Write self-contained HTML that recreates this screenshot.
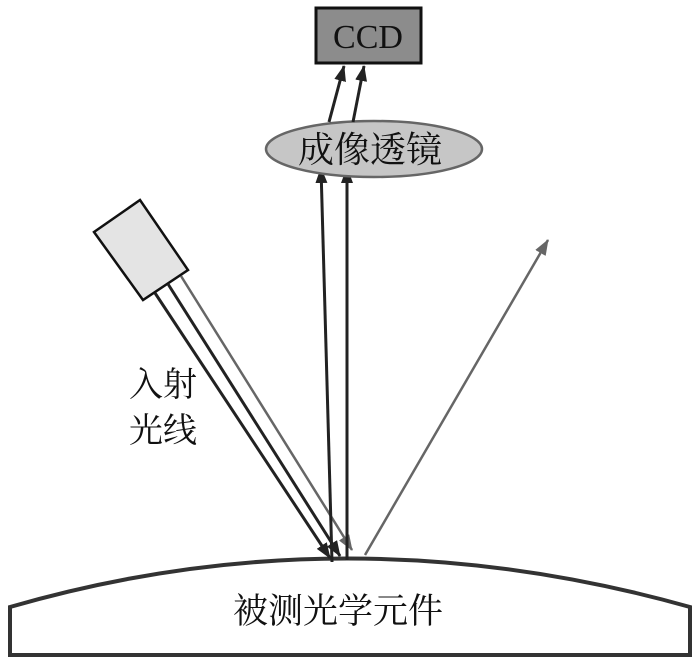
<!DOCTYPE html>
<html><head><meta charset="utf-8"><style>
html,body{margin:0;padding:0;background:#fff;}
svg{display:block;}
text{font-family:"Liberation Serif","Noto Serif CJK SC",serif;fill:#111;}
</style></head><body>
<svg width="700" height="663" viewBox="0 0 700 663">
<defs>
<marker id="abig" markerWidth="16" markerHeight="12" refX="15" refY="6" orient="auto" markerUnits="userSpaceOnUse" viewBox="0 0 16 12"><path d="M0,0 L16,6 L0,12 Z" fill="#222"/></marker>
<marker id="agbig" markerWidth="16" markerHeight="12" refX="15" refY="6" orient="auto" markerUnits="userSpaceOnUse" viewBox="0 0 16 12"><path d="M0,0 L16,6 L0,12 Z" fill="#666"/></marker>
</defs>
<path d="M10,607 Q345,510 690,607 L690,655 L10,655 Z" fill="#fff" stroke="#333" stroke-width="4"/>
<text x="338" y="623" font-size="35" text-anchor="middle">被测光学元件</text>
<polygon points="94,232 140,200 188,270 143,300" fill="#e4e4e4" stroke="#111" stroke-width="2.5"/>
<line x1="155" y1="293" x2="330" y2="558" stroke="#222" stroke-width="3" marker-end="url(#abig)"/>
<line x1="168" y1="284" x2="340" y2="556" stroke="#222" stroke-width="3" marker-end="url(#abig)"/>
<line x1="181" y1="276" x2="352" y2="550" stroke="#666" stroke-width="2.5" marker-end="url(#agbig)"/>
<line x1="332" y1="562" x2="321" y2="168" stroke="#222" stroke-width="3" marker-end="url(#abig)"/>
<line x1="347" y1="560" x2="347" y2="168" stroke="#222" stroke-width="3" marker-end="url(#abig)"/>
<line x1="365" y1="555" x2="548" y2="240" stroke="#666" stroke-width="2.5" marker-end="url(#agbig)"/>
<ellipse cx="374" cy="149" rx="108" ry="28" fill="#c6c6c6" stroke="#666" stroke-width="2.5"/>
<text x="370" y="162" font-size="36" text-anchor="middle">成像透镜</text>
<line x1="329" y1="122" x2="344" y2="66" stroke="#222" stroke-width="3" marker-end="url(#abig)"/>
<line x1="353" y1="122" x2="364" y2="66" stroke="#222" stroke-width="3" marker-end="url(#abig)"/>
<rect x="316" y="8" width="105" height="55" fill="#8c8c8c" stroke="#111" stroke-width="3"/>
<text x="368" y="48" font-size="34" text-anchor="middle">CCD</text>
<text x="129" y="396" font-size="34">入射</text>
<text x="129" y="442" font-size="34">光线</text>
</svg>
</body></html>
